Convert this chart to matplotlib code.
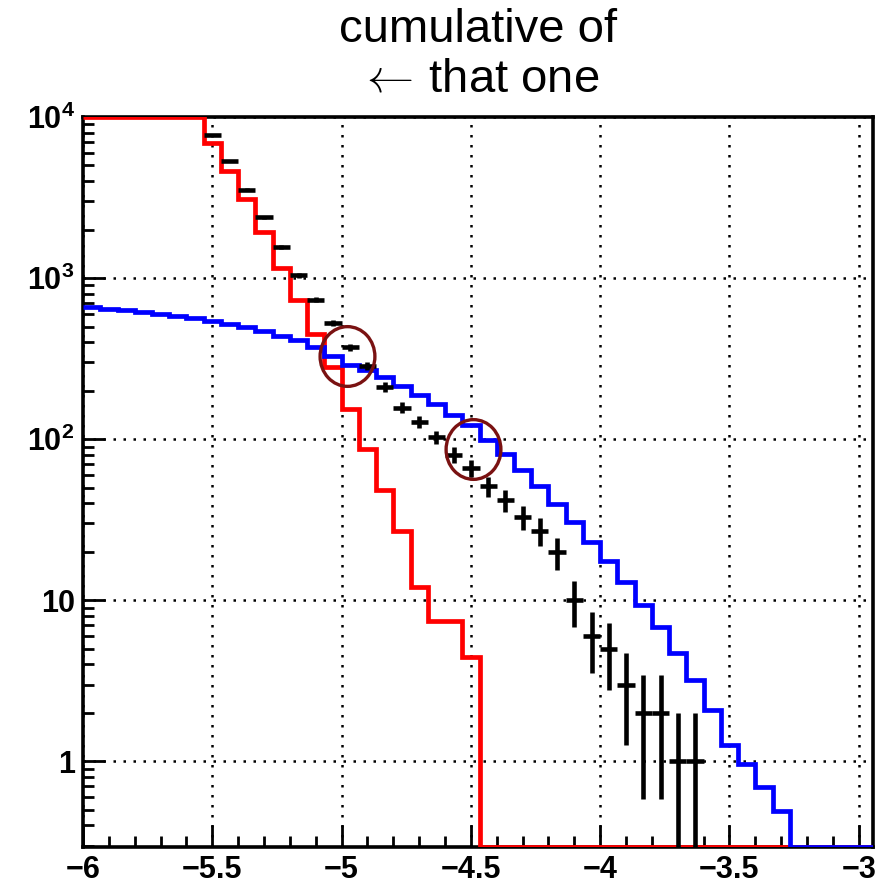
import numpy as np
import matplotlib
matplotlib.use('Agg')
import matplotlib.pyplot as plt
from matplotlib.ticker import MultipleLocator, LogLocator, NullFormatter
from matplotlib.path import Path

plt.rcParams['font.family'] = ['Liberation Sans', 'DejaVu Sans']
plt.rcParams['mathtext.fontset'] = 'custom'
plt.rcParams['mathtext.rm'] = 'Liberation Sans'
plt.rcParams['mathtext.bf'] = 'Liberation Sans:bold'

# histogram binning: 46 bins of width 1/15 starting at -6
bin_lo = -6.0
bin_width = 1.0 / 15
n_bins = 46

# red histogram (first 7 bins sit on the top of the frame)
red_counts = [10000, 10000, 10000, 10000, 10000, 10000, 10000,
              6900, 4600, 3110, 1930, 1150, 730, 447, 281, 155, 87,
              48.6, 27.0, 12.1, 7.44, 7.44, 4.44,
              0, 0, 0, 0, 0, 0, 0, 0, 0, 0, 0, 0, 0, 0, 0, 0, 0, 0, 0, 0, 0, 0, 0]

# blue histogram
blue_counts = [660, 645, 630, 614, 597, 580, 562, 540, 516, 494, 471, 440,
               412, 371, 328, 290, 268, 244, 213, 188, 166, 141, 122, 98.6,
               81.5, 64.7, 51.1, 39.8, 30.6, 23.0, 17.5, 13.0, 9.3, 6.8,
               4.7, 3.2, 2.07, 1.27, 0.97, 0.69, 0.49,
               0, 0, 0, 0, 0]

# black points with sqrt(N) errors, bins 7..35
black_first_bin = 7
black_counts = [7700, 5310, 3540, 2380, 1554, 1040, 733, 528, 371, 284,
                211, 157, 128, 103, 80, 66, 51, 42, 33, 27, 20, 10,
                6, 5, 3, 2, 2, 1, 1]

# circled spots (x, y)
circle_x = [-4.980, -4.493]
circle_y = [330, 87]

title_lines = ['cumulative of', r'$\leftarrow\,$that one']
xtick_vals = [-6, -5.5, -5, -4.5, -4, -3.5, -3]
ytick_vals = [1, 10, 100, 1000, 10000]
ytick_labels = ['1', '10', r'$\mathbf{10^{2}}$', r'$\mathbf{10^{3}}$', r'$\mathbf{10^{4}}$']

ymin, ymax = 0.294, 10000
xmin, xmax = -6, -2.945

edges = bin_lo + np.arange(n_bins + 1) * bin_width
centers = 0.5 * (edges[:-1] + edges[1:])

fig = plt.figure(figsize=(8.91, 8.85), dpi=100)
ax = fig.add_axes([0.0932, 0.0429, 0.8866, 0.8249])
ax.set_yscale('log')
ax.set_xlim(xmin, xmax)
ax.set_ylim(ymin, ymax)

# empty bins are drawn along the bottom of the frame, overflow along the top
red_draw = np.clip(np.array(red_counts, dtype=float), ymin, ymax)
blue_draw = np.clip(np.array(blue_counts, dtype=float), ymin, ymax)

ax.stairs(red_draw, edges, baseline=None, color='#ff0000', linewidth=3.4, zorder=3)
ax.stairs(blue_draw, edges, baseline=None, color='#0000ff', linewidth=3.4, zorder=4)

bk = np.array(black_counts, dtype=float)
bx = centers[black_first_bin:black_first_bin + len(bk)]
ax.errorbar(bx, bk, xerr=bin_width / 2, yerr=np.sqrt(bk), fmt='none',
            ecolor='black', elinewidth=3.3, capsize=0, zorder=5)

# slightly tall ellipse marker for the circled spots
ring = Path.unit_circle()
ring = Path(ring.vertices * np.array([1.0, 1.09]), ring.codes)
ax.plot(circle_x, circle_y, linestyle='none', marker=ring, markersize=43,
        markerfacecolor='none', markeredgecolor='#7a1212', markeredgewidth=2.4,
        zorder=6)

ax.grid(True, which='major', color='black', linestyle=(0, (1, 3)), linewidth=1.8, zorder=1)
ax.set_axisbelow(True)

ax.set_xticks(xtick_vals)
ax.set_xticklabels(['\u2212' + ('%g' % abs(v)) for v in xtick_vals])
ax.xaxis.set_minor_locator(MultipleLocator(0.1))
ax.set_yticks(ytick_vals)
ax.set_yticklabels(ytick_labels)
ax.yaxis.set_minor_locator(LogLocator(base=10, subs=np.arange(2, 10)))
ax.yaxis.set_minor_formatter(NullFormatter())

ax.tick_params(axis='both', which='major', direction='in', length=16, width=2,
               top=False, right=False, labelsize=22, pad=6)
ax.tick_params(axis='both', which='minor', direction='in', length=8, width=2,
               top=False, right=False)
for lab in ax.get_xticklabels() + ax.get_yticklabels():
    lab.set_fontweight('bold')

for sp in ax.spines.values():
    sp.set_linewidth(2.6)

fig.text(0.537, 0.966, title_lines[0], ha='center', va='center', fontsize=34)
fig.text(0.537, 0.910, title_lines[1], ha='center', va='center', fontsize=34,
         math_fontfamily='cm')

fig.savefig('out.png', dpi=100)
